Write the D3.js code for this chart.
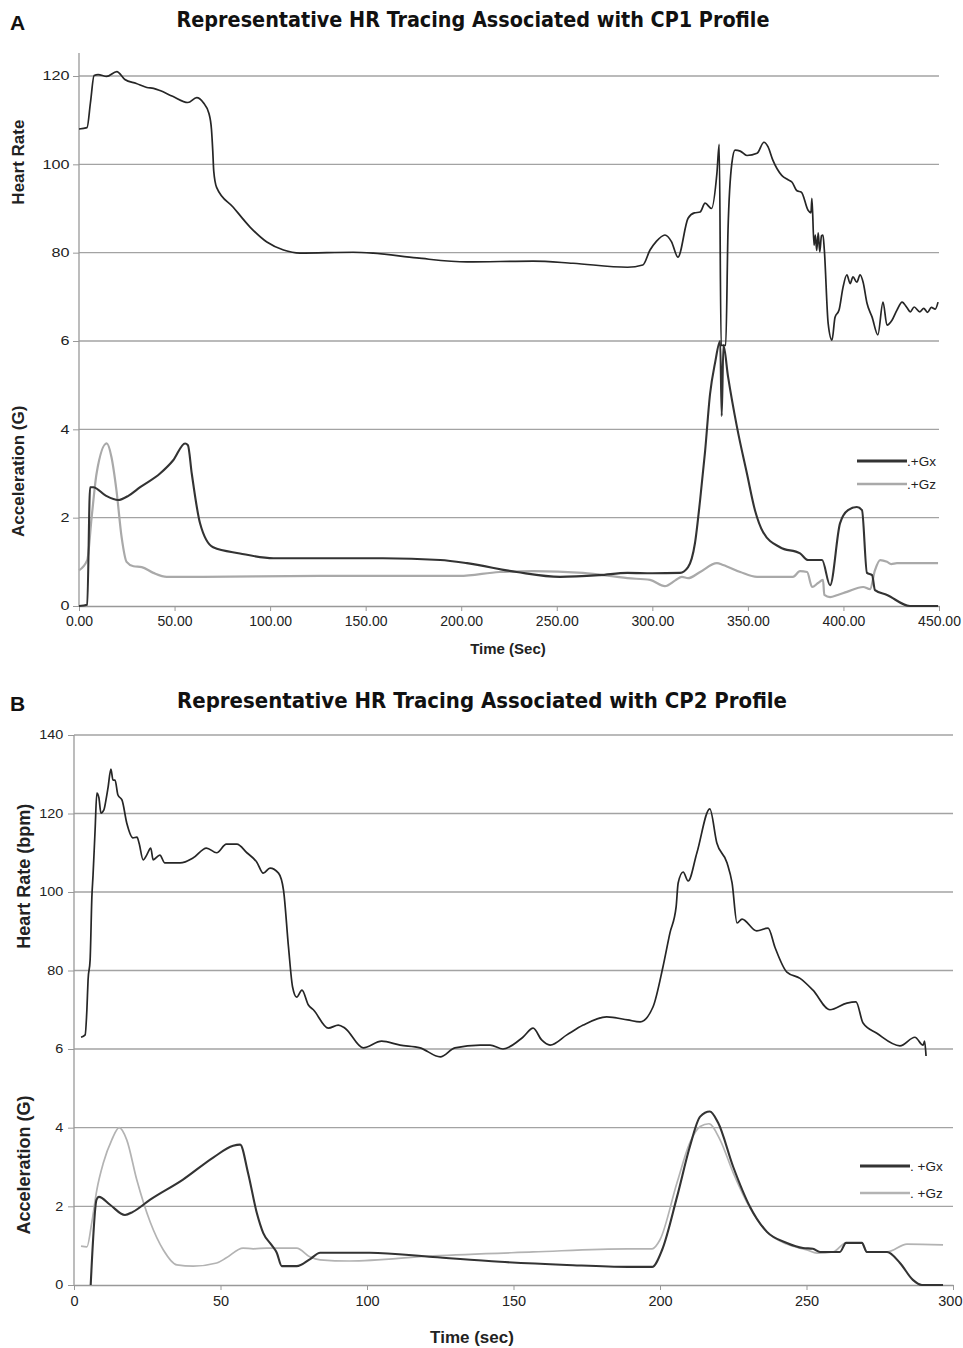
<!DOCTYPE html>
<html>
<head>
<meta charset="utf-8">
<script src="https://cdn.jsdelivr.net/npm/d3@7"></script>
<style>
  body { margin: 0; background: #fff; }
  svg { display: block; font-family: "Liberation Sans", Arial, sans-serif; }
</style>
</head>
<body>
<svg id="chart" width="963" height="1348"></svg>
<script>
// ---- Panel A (CP1) : [time sec, value] ----
const hrA = [[0,108],[4.2,108.3],[6,114],[7.9,120.1],[10,120.3],[14.5,119.9],[19.8,121],[24,119.2],[30,118.3],[35.5,117.4],
  [39,117.2],[42.4,116.7],[49,115.4],[57,114],[61.6,115.1],[65,114],[68,111.5],[69.3,108],[70,103],[70.5,98.5],[72,94.8],
  [80.7,90.3],[89.5,85.8],[98.3,82.4],[107,80.6],[115.6,79.9],[143.5,80.1],[154,79.9],[176.8,78.8],[203,77.9],[237.6,78.1],
  [258.5,77.6],[287,76.7],[295,77.2],[298.8,80.6],[302,82.5],[306.6,84],[310,82.5],[313.4,79],[318.7,87.8],[322,89],
  [325,89.2],[327.6,91.2],[331,90],[333.8,98],[335,104.5],[336,59],[338.4,59],[339.6,85],[341.6,100.2],[343.3,103.2],
  [346,103],[349.5,102],[354.8,102.5],[358.4,105],[360.5,104],[363,101],[367.7,97.5],[371,96.5],[373,96],[375.7,94],
  [378,93.7],[381.5,89.6],[383,89],[383.5,92.3],[384.6,81.7],[385.3,84],[386,80.5],[386.8,84.5],[387.6,80.2],[388.5,83.8],
  [389.3,84],[390,80.6],[392,64],[394,60.2],[395.6,65.4],[397.7,67],[399.8,72.2],[401.8,75],[403.5,73],[405,74.5],
  [407,73.3],[408.7,75],[410.3,73.3],[412.3,68.6],[415,65.4],[418,61.4],[420.7,68.8],[422.8,63.6],[425.4,64.7],[428,67],
  [430.7,68.8],[433,67.7],[435,66.6],[437,67.7],[440,66.6],[442,67.4],[444,66.5],[446,67.6],[448,67.2],[449.5,68.8]];
const gxA = [[0,0],[4.3,0.03],[5.8,2.69],[7.4,2.69],[14,2.5],[20.5,2.4],[26,2.5],[32,2.69],[42.4,3.0],[49.3,3.3],
  [55.5,3.68],[57,3.64],[59,3.0],[63.3,1.88],[70.2,1.33],[84.2,1.19],[101.7,1.08],[133,1.08],[159,1.08],[189,1.04],
  [203,0.97],[229,0.77],[251.7,0.66],[272.6,0.7],[287,0.75],[300,0.74],[314.5,0.75],[318.7,0.88],[322.3,1.42],[325,2.4],
  [327.6,3.5],[330.2,4.8],[332.8,5.5],[335.5,6.0],[336.3,4.3],[337.2,5.9],[339.6,5.2],[344.3,4.05],[349.5,3.0],[353.7,2.17],
  [358,1.67],[366.8,1.33],[377.3,1.19],[381.5,1.04],[388.8,1.04],[393,0.47],[398.2,1.87],[402.4,2.17],[407,2.24],
  [409.7,2.17],[412.3,0.75],[415,0.7],[416.5,0.36],[422.8,0.25],[434.8,0],[449.5,0]];
const gzA = [[0,0.81],[4.3,1.04],[6.6,2.0],[9.2,3.0],[14.5,3.68],[17,3.37],[19.6,2.62],[22.3,1.56],[24.9,1.0],[28.5,0.9],
  [32.8,0.88],[38.9,0.75],[45.9,0.66],[63.3,0.66],[126,0.68],[199,0.68],[220,0.77],[237.6,0.79],[263.7,0.75],[287,0.63],
  [298.8,0.59],[306.6,0.45],[312,0.58],[315.5,0.66],[318.7,0.63],[325,0.77],[333.8,0.97],[337,0.93],[346,0.77],[354.8,0.66],
  [373.6,0.66],[377.3,0.79],[381,0.77],[383.6,0.43],[386.7,0.52],[389.3,0.59],[390,0.25],[393,0.2],[397,0.25],[401.8,0.32],
  [410.3,0.43],[413.9,0.38],[416.5,0.81],[419.2,1.04],[422.8,1.0],[425,0.95],[428,0.97],[449.5,0.97]];
const xTicksA = [0, 50, 100, 150, 200, 250, 300, 350, 400, 450];
const hrTicksA = [60, 80, 100, 120];
const hrTickLabelsA = ["6", "80", "100", "120"];

// ---- Panel B (CP2) ----
const hrB = [[2.4,63],[3.8,63.6],[4.4,70],[4.8,77.6],[5.5,82.7],[6.1,98.7],[6.5,104.3],[7.2,115.8],[7.8,125.2],[8.5,124],
  [9.2,120.1],[10.2,120.9],[10.9,123.4],[11.6,126.5],[12.6,131.3],[13.3,128.5],[14,128.5],[15,124.7],[16.4,123.4],[18,117.6],
  [20.1,113.8],[21.5,114],[22.2,112.5],[23.6,108.2],[24.8,109.4],[26.2,111.2],[27,108.2],[29.3,109.4],[31,107.4],[36.2,107.4],
  [40.7,108.7],[45.2,111.2],[48.7,110],[52,112.2],[55.6,112.2],[59,110],[62.4,107.6],[64.6,104.8],[66.9,106.1],[69.8,104.8],
  [71.5,100.5],[73.2,86],[74.6,75.8],[76,73.2],[77.8,75],[80,71.2],[81.7,70],[86.8,65.3],[90.2,66.1],[92.5,65.3],[98.7,60.3],
  [105,62],[111.3,61],[118.1,60.3],[125,58],[130,60.3],[138.6,61],[142,61],[146.4,60],[153.2,63],[156.7,65.3],[159.6,62.3],
  [162.5,61],[168.2,63.6],[173.8,66.1],[181.8,68.2],[189,67.4],[193.2,66.9],[197.6,70.7],[201,80.9],[203.4,89.6],[205.5,96.2],
  [206.2,102.3],[207.9,105.1],[209.6,102.8],[212.6,110],[217,121.2],[219.4,112.5],[222.9,107.4],[224.6,102.3],[226.3,92.1],
  [228,93.1],[233,90.1],[236.9,90.8],[239.2,86],[243.3,79.6],[247.8,78],[252.2,75],[258,70],[263.8,71.7],[266.9,72],
  [269.3,66.6],[274,64],[281.9,60.8],[287,63],[289.8,61],[290.3,62],[290.8,58.2]];
const gxB = [[5.7,0],[7.7,2.17],[8.5,2.24],[12.3,2.04],[17.4,1.78],[20.1,1.86],[26,2.17],[37.2,2.68],[47.5,3.24],[54.3,3.54],
  [56.7,3.57],[59.4,2.85],[62.4,1.83],[64.6,1.32],[67.4,1.02],[69.2,0.82],[70.9,0.48],[76,0.48],[80.6,0.66],[84,0.82],
  [101,0.82],[122.5,0.71],[145.4,0.59],[168.2,0.51],[189,0.46],[197.3,0.46],[200.7,0.89],[205.8,2.24],[210.2,3.52],
  [213.7,4.28],[217,4.41],[219.8,4.13],[225,3.0],[230.7,1.99],[236.5,1.35],[243.3,1.07],[248.8,0.94],[252.2,0.92],
  [254.6,0.84],[261.4,0.84],[263.5,1.07],[268.9,1.07],[270.6,0.84],[277.5,0.84],[281.9,0.56],[286.3,0.13],[289.4,0],[296.6,0]];
const gzB = [[2.4,0.99],[4.4,0.97],[6.1,1.6],[7.8,2.42],[10,3.1],[12.9,3.69],[15.4,4.0],[18,3.69],[21.4,2.68],[26,1.6],
  [30.5,0.89],[35.1,0.51],[40.7,0.48],[48.7,0.56],[52,0.69],[57.7,0.94],[61.2,0.92],[65.8,0.94],[76,0.94],[80.6,0.71],
  [84,0.64],[94,0.61],[122.5,0.74],[156.7,0.84],[189,0.92],[197.3,0.92],[200,1.15],[205.8,2.6],[210.2,3.62],[213.7,4.03],
  [216.7,4.1],[220.5,3.69],[225,2.85],[230.7,1.96],[236.5,1.35],[243.3,1.04],[250.2,0.89],[253.6,0.81],[259.1,0.84],
  [263.5,1.07],[268.9,1.07],[270.6,0.84],[277.5,0.84],[284.3,1.04],[296.6,1.02]];
const xTicksB = [0, 50, 100, 150, 200, 250, 300];
const hrTicksB = [60, 80, 100, 120, 140];
const hrTickLabelsB = ["6", "80", "100", "120", "140"];

const accTicks = [0, 2, 4];

const svg = d3.select("#chart");

function drawPanel(p) {
  const x = d3.scaleLinear().domain([p.xTicks[0], p.xTicks[p.xTicks.length - 1]]).range([p.left, p.right]);
  const yHr = d3.scaleLinear().domain([60, p.hrTicks[p.hrTicks.length - 1]]).range([p.mid, p.hrTop]);
  const yAcc = d3.scaleLinear().domain([0, 6]).range([p.bottom, p.mid]);
  const g = svg.append("g");

  // horizontal gridlines
  const gridYs = p.hrTicks.map(d => yHr(d)).concat([2, 4].map(d => yAcc(d)));
  g.selectAll(".grid").data(gridYs).join("line")
    .attr("x1", p.left).attr("x2", p.right)
    .attr("y1", d => d).attr("y2", d => d)
    .attr("stroke", "#a3a3a3").attr("stroke-width", 1.3);

  // y axes (upper = heart rate, lower = acceleration)
  const styleY = sel => {
    sel.select(".domain").remove();
    sel.selectAll(".tick line").attr("stroke", "#999");
    sel.selectAll(".tick text")
      .attr("fill", "#222").attr("font-size", 12)
      .attr("transform", `scale(${p.yLabelStretch},1)`);
  };
  g.append("g").attr("transform", `translate(${p.left},0)`)
    .call(d3.axisLeft(yHr).tickValues(p.hrTicks).tickFormat((d, i) => p.hrTickLabels[i]).tickSize(6).tickPadding(p.yPad))
    .call(styleY);
  g.append("g").attr("transform", `translate(${p.left},0)`)
    .call(d3.axisLeft(yAcc).tickValues(accTicks).tickFormat(d3.format("d")).tickSize(6).tickPadding(p.yPad))
    .call(styleY);
  g.append("line")
    .attr("x1", p.left).attr("x2", p.left).attr("y1", p.axisTop).attr("y2", p.bottom)
    .attr("stroke", "#999").attr("stroke-width", 1.3);

  // x axis
  const xa = g.append("g").attr("transform", `translate(0,${p.bottom})`)
    .call(d3.axisBottom(x).tickValues(p.xTicks).tickFormat(p.xFormat).tickSize(5).tickSizeOuter(0).tickPadding(p.xPad));
  xa.select(".domain").attr("stroke", "#999").attr("stroke-width", 1.3);
  xa.selectAll(".tick line").attr("stroke", "#999");
  xa.selectAll(".tick text").attr("fill", "#222").attr("font-size", p.xFont);
  if (p.lastLabelEnd) {
    xa.selectAll(".tick text").filter((d, i, n) => i === n.length - 1)
      .attr("text-anchor", "end").attr("x", p.lastLabelEnd);
  }

  // series
  const line = yScale => d3.line().x(d => x(d[0])).y(d => yScale(d[1])).curve(d3.curveMonotoneX);
  g.append("path").datum(p.gz).attr("fill", "none").attr("stroke", p.gzColor).attr("stroke-width", p.gzWidth)
    .attr("d", line(yAcc));
  g.append("path").datum(p.gx).attr("fill", "none").attr("stroke", "#333").attr("stroke-width", 2.1)
    .attr("d", line(yAcc));
  g.append("path").datum(p.hr).attr("fill", "none").attr("stroke", "#262626").attr("stroke-width", 1.7)
    .attr("d", line(yHr));

  // legend
  const leg = g.append("g");
  [["+Gx", "#333", 2.8], ["+Gz", p.gzColor, 2.4]].forEach((s, i) => {
    const ly = p.legY + i * p.legGap;
    leg.append("line").attr("x1", p.legX).attr("x2", p.legX + 50).attr("y1", ly).attr("y2", ly)
      .attr("stroke", s[1]).attr("stroke-width", s[2]);
    leg.append("text").attr("x", p.legX + 50).attr("y", ly + 5).attr("font-size", 13.5).attr("fill", "#222")
      .text(p.legPrefix + s[0]);
  });

  // titles and labels
  g.append("text").attr("x", 10).attr("y", p.titleY + 3).attr("font-size", 21).attr("font-weight", "bold")
    .attr("fill", "#111").text(p.letter);
  g.append("text").attr("x", p.titleX).attr("y", p.titleY).attr("text-anchor", "middle")
    .attr("font-family", "'Liberation Sans Narrow', 'DejaVu Sans Condensed', sans-serif")
    .attr("font-size", 22).attr("font-weight", "bold").attr("fill", "#111")
    .attr("textLength", p.titleLen).attr("lengthAdjust", "spacingAndGlyphs")
    .text(p.title);
  g.append("text").attr("x", p.xTitleX).attr("y", p.xTitleY).attr("text-anchor", "middle")
    .attr("font-size", p.xTitleFont).attr("font-weight", "bold").attr("fill", "#222").text(p.xTitle);
  [[p.hrTitle, yHr(p.hrTitleAt)], ["Acceleration (G)", yAcc(3.05)]].forEach(t => {
    g.append("text").attr("transform", `translate(${p.yTitleX},${t[1]}) rotate(-90)`)
      .attr("text-anchor", "middle").attr("dominant-baseline", "central")
      .attr("font-size", p.yTitleFont).attr("font-weight", "bold").attr("fill", "#222").text(t[0]);
  });
}

drawPanel({
  letter: "A", title: "Representative HR Tracing Associated with CP1 Profile",
  titleX: 473, titleY: 27, titleLen: 593,
  left: 79, right: 939, axisTop: 53, hrTop: 76, mid: 341, bottom: 606,
  xTicks: xTicksA, xFormat: d3.format(".2f"), xFont: 14, xPad: 5,
  hrTicks: hrTicksA, hrTickLabels: hrTickLabelsA, yLabelStretch: 1.35, yPad: 1,
  hr: hrA, gx: gxA, gz: gzA, gzColor: "#a9a9a9", gzWidth: 2.2,
  legX: 857, legY: 461, legGap: 23, legPrefix: ".",
  xTitle: "Time (Sec)", xTitleX: 508, xTitleY: 654, xTitleFont: 15,
  hrTitle: "Heart Rate", hrTitleAt: 100.5, yTitleX: 18.5, yTitleFont: 17
});

drawPanel({
  letter: "B", title: "Representative HR Tracing Associated with CP2 Profile",
  titleX: 482, titleY: 708, titleLen: 610,
  left: 74, right: 953, axisTop: 735, hrTop: 735, mid: 1049, bottom: 1285,
  xTicks: xTicksB, xFormat: d3.format("d"), xFont: 14.5, xPad: 6, lastLabelEnd: 9,
  hrTicks: hrTicksB, hrTickLabels: hrTickLabelsB, yLabelStretch: 1.2, yPad: 3,
  hr: hrB, gx: gxB, gz: gzB, gzColor: "#b3b3b3", gzWidth: 1.7,
  legX: 860, legY: 1166, legGap: 27, legPrefix: ". ",
  xTitle: "Time (sec)", xTitleX: 472, xTitleY: 1343, xTitleFont: 17,
  hrTitle: "Heart Rate (bpm)", hrTitleAt: 104, yTitleX: 23.5, yTitleFont: 18
});
</script>
</body>
</html>
